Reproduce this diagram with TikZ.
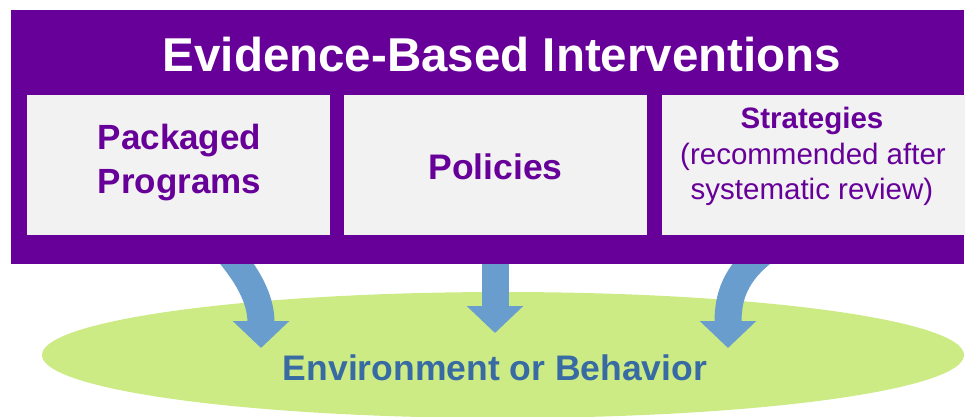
\documentclass[tikz,border=0pt]{standalone}
\usepackage{fontspec}
\setmainfont{Liberation Sans}
\usetikzlibrary{arrows.meta,shapes.geometric}
\definecolor{evpurple}{RGB}{102,0,153}
\definecolor{boxgray}{RGB}{242,242,242}
\definecolor{ellgreen}{RGB}{205,235,133}
\definecolor{arrblue}{RGB}{104,157,206}
\definecolor{txtblue}{RGB}{56,106,163}
\begin{document}
\begin{tikzpicture}[x=1pt,y=-1pt,
  panel/.style={fill=boxgray, draw=none, minimum width=303pt, minimum height=140pt, inner sep=0pt, anchor=north west},
  boxtext/.style={text=evpurple, anchor=base, inner sep=0pt},
  flow/.style={draw=arrblue, line width=27pt, -{Triangle[width=55pt,length=27pt]}}
]
\useasboundingbox (0,0) rectangle (965,416);
% ellipse
\node[ellipse, fill=ellgreen, draw=none, minimum width=922pt, minimum height=126pt, inner sep=0pt] (env) at (503,355) {};
\node[text=txtblue, anchor=base, inner sep=0pt, font=\bfseries\fontsize{35.5}{40}\selectfont] (envtext) at (495,380) {Environment or Behavior};
% arrow coordinates
\coordinate (s1) at (226,250);
\coordinate (t1) at (261,348);
\coordinate (s2) at (495,250);
\coordinate (t2) at (495,333);
\coordinate (s3) at (766,250);
\coordinate (t3) at (728,348);
\draw[flow] (s1) .. controls +(26,30) and +(0,-45) .. (t1);
\draw[flow] (s2) -- (t2);
\draw[flow] (s3) .. controls +(-32,24) and +(0,-50) .. (t3);
% purple frame
\node[fill=evpurple, draw=none, minimum width=953pt, minimum height=254pt, inner sep=0pt, anchor=north west] (frame) at (11,10) {};
\node[text=white, anchor=base, inner sep=0pt, font=\bfseries\fontsize{47.5}{55}\selectfont] (title) at (502,71) {Evidence-Based Interventions};
% panels
\node[panel] (p1) at (27,95) {};
\node[panel] (p2) at (344,95) {};
\node[panel] (p3) at (662,95) {};
% panel texts
\node[boxtext, font=\bfseries\fontsize{35}{40}\selectfont] (p1a) at (179.5,149) {Packaged};
\node[boxtext, font=\bfseries\fontsize{35}{40}\selectfont] (p1b) at (179.5,193) {Programs};
\node[boxtext, font=\bfseries\fontsize{35.5}{40}\selectfont] (p2a) at (495.5,179) {Policies};
\node[boxtext, font=\bfseries\fontsize{29.5}{34}\selectfont] (p3a) at (812,128) {Strategies};
\node[boxtext, font=\fontsize{29.5}{34}\selectfont] (p3b) at (813,164.5) {(recommended after};
\node[boxtext, font=\fontsize{29.5}{34}\selectfont] (p3c) at (812,199) {systematic review)};
\end{tikzpicture}
\end{document}
